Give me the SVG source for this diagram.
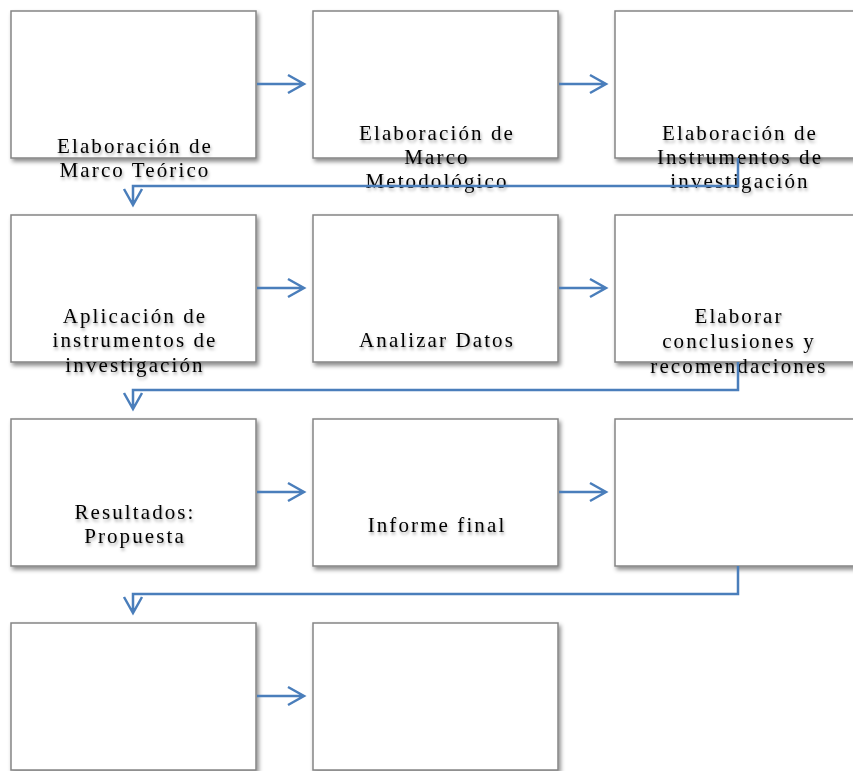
<svg xmlns="http://www.w3.org/2000/svg" width="853" height="771" viewBox="0 0 853 771">
  <defs>
    <filter id="boxShadow" x="-10%" y="-10%" width="125%" height="130%">
      <feDropShadow dx="2" dy="3" stdDeviation="2" flood-color="#000" flood-opacity="0.45"/>
    </filter>
    <filter id="textShadow" x="-10%" y="-30%" width="120%" height="170%">
      <feDropShadow dx="1" dy="2.5" stdDeviation="1.6" flood-color="#000" flood-opacity="0.35"/>
    </filter>
  </defs>
  <style>
    .box { fill: #ffffff; stroke: #858585; stroke-width: 1.5; filter: url(#boxShadow); }
    .label { font-family: "Liberation Serif", "Times New Roman", serif; font-size: 21px; letter-spacing: 2.1px; fill: #000000; text-anchor: middle; filter: url(#textShadow); }
    .conn { fill: none; stroke: #4a7ebb; stroke-width: 2.5; stroke-linejoin: miter; }
  </style>
  <rect width="853" height="771" fill="#ffffff"/>

  <!-- Row 1 -->
  <g id="n1">
    <rect class="box" x="11" y="11" width="245" height="147"/>
    <text class="label" x="135" y="153">Elaboración de</text>
    <text class="label" x="135" y="177">Marco Teórico</text>
  </g>
  <g id="n2">
    <rect class="box" x="313" y="11" width="245" height="147"/>
    <text class="label" x="437" y="140">Elaboración de</text>
    <text class="label" x="437" y="164">Marco</text>
    <text class="label" x="437" y="188">Metodológico</text>
  </g>
  <g id="n3">
    <rect class="box" x="615" y="11" width="250" height="147"/>
    <text class="label" x="740" y="140">Elaboración de</text>
    <text class="label" x="740" y="164">Instrumentos de</text>
    <text class="label" x="740" y="188">investigación</text>
  </g>

  <!-- Row 2 -->
  <g id="n4">
    <rect class="box" x="11" y="215" width="245" height="147"/>
    <text class="label" x="135" y="323">Aplicación de</text>
    <text class="label" x="135" y="347">instrumentos de</text>
    <text class="label" x="135" y="372">investigación</text>
  </g>
  <g id="n5">
    <rect class="box" x="313" y="215" width="245" height="147"/>
    <text class="label" x="437" y="347">Analizar Datos</text>
  </g>
  <g id="n6">
    <rect class="box" x="615" y="215" width="250" height="147"/>
    <text class="label" x="739" y="323">Elaborar</text>
    <text class="label" x="739" y="348">conclusiones y</text>
    <text class="label" x="739" y="373">recomendaciones</text>
  </g>

  <!-- Row 3 -->
  <g id="n7">
    <rect class="box" x="11" y="419" width="245" height="147"/>
    <text class="label" x="135" y="519">Resultados:</text>
    <text class="label" x="135" y="543">Propuesta</text>
  </g>
  <g id="n8">
    <rect class="box" x="313" y="419" width="245" height="147"/>
    <text class="label" x="437" y="532">Informe final</text>
  </g>
  <g id="n9">
    <rect class="box" x="615" y="419" width="250" height="147"/>
  </g>

  <!-- Row 4 -->
  <g id="n10">
    <rect class="box" x="11" y="623" width="245" height="147"/>
  </g>
  <g id="n11">
    <rect class="box" x="313" y="623" width="245" height="147"/>
  </g>

  <!-- Connectors -->
  <g id="connectors">
    <!-- row 1 -->
    <path class="conn" d="M257,84 H304 M288,75 L304,84 L288,93"/>
    <path class="conn" d="M559,84 H606 M590,75 L606,84 L590,93"/>
    <path class="conn" d="M738,158 V186 H133 V204 M124,189 L133,205 L142,189"/>
    <!-- row 2 -->
    <path class="conn" d="M257,288 H304 M288,279 L304,288 L288,297"/>
    <path class="conn" d="M559,288 H606 M590,279 L606,288 L590,297"/>
    <path class="conn" d="M738,362 V390 H133 V408 M124,393 L133,409 L142,393"/>
    <!-- row 3 -->
    <path class="conn" d="M257,492 H304 M288,483 L304,492 L288,501"/>
    <path class="conn" d="M559,492 H606 M590,483 L606,492 L590,501"/>
    <path class="conn" d="M738,566 V594 H133 V612 M124,597 L133,613 L142,597"/>
    <!-- row 4 -->
    <path class="conn" d="M257,696 H304 M288,687 L304,696 L288,705"/>
  </g>
</svg>
